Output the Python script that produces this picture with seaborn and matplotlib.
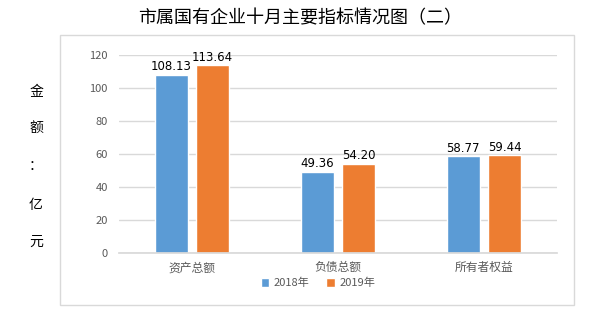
import matplotlib
matplotlib.use("Agg")
import matplotlib.pyplot as plt
import seaborn as sns
import pandas as pd
from matplotlib.patches import Rectangle

categories = ["资产总额", "负债总额", "所有者权益"]
years = ["2018年", "2019年"]
values_2018 = [108.13, 49.36, 58.77]
values_2019 = [113.64, 54.20, 59.44]
colors = ["#5B9BD5", "#ED7D31"]

df = pd.DataFrame({
    "cat": categories * 2,
    "year": [years[0]] * 3 + [years[1]] * 3,
    "val": values_2018 + values_2019,
})

sns.set_theme(style="white")
plt.rcParams['font.family'] = ['Noto Sans CJK SC', 'DejaVu Sans']

W, H = 602, 326
fig = plt.figure(figsize=(W / 100, H / 100), dpi=100)

# chart frame
fig.patches.append(Rectangle((60 / W, 1 - 305 / H), (574 - 60) / W, (305 - 35) / H,
                             transform=fig.transFigure, fill=False,
                             edgecolor="#D9D9D9", linewidth=1.0))

ax = fig.add_axes([119 / W, 1 - 253 / H, (557 - 119) / W, (253 - 55) / H])
sns.barplot(data=df, x="cat", y="val", hue="year", palette=colors,
            width=0.568, gap=0.2, ax=ax, legend=True, saturation=1)

ax.set_ylim(0, 120)
ax.set_yticks(range(0, 121, 20))
ax.set_xlim(-0.5, 2.5)
ax.grid(axis="y", color="#D9D9D9", linewidth=1)
ax.set_axisbelow(True)
for s in ["top", "right", "left"]:
    ax.spines[s].set_visible(False)
ax.spines["bottom"].set_color("#D9D9D9")
ax.tick_params(axis="both", length=0, labelsize=8, colors="#595959", pad=8)
ax.tick_params(axis="x", pad=6, labelsize=8.5)
ax.set_xlabel("")
ax.set_ylabel("")

for cont in ax.containers:
    ax.bar_label(cont, fmt="%.2f", fontsize=8.5, color="#000000", padding=1,
                 family=['DejaVu Sans'])

leg = ax.legend(loc="center", bbox_to_anchor=(318 / W, 1 - 283 / H),
                bbox_transform=fig.transFigure, ncol=2, frameon=False,
                fontsize=8, handlelength=0.8, handleheight=0.8,
                columnspacing=1.5, handletextpad=0.4)
for t in leg.get_texts():
    t.set_color("#595959")

fig.text(300 / W, 1 - 18 / H, "市属国有企业十月主要指标情况图（二）",
         ha="center", va="center", fontsize=13, color="#000000")

for ch, y in zip(["金", "额", "：", "亿", "元"], [92, 128, 166, 205, 242]):
    fig.text(36 / W, 1 - y / H, ch, ha="center", va="center", fontsize=10,
             color="#000000")

fig.savefig("out.png", dpi=100)
